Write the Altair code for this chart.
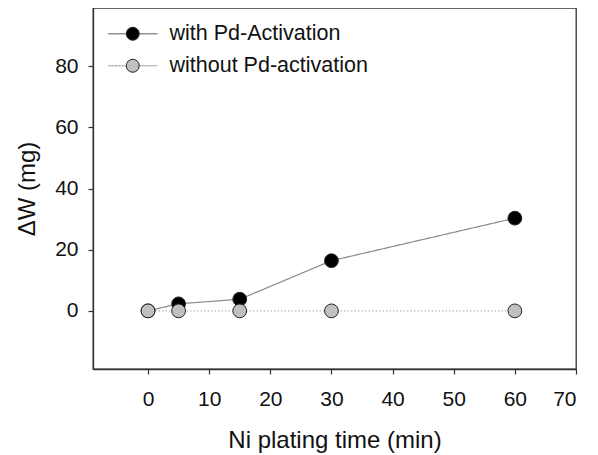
import altair as alt
import pandas as pd

# ---- data ----
time_min = [0, 5, 15, 30, 60]
with_pd = [0.0, 2.3, 3.8, 16.4, 30.3]
without_pd = [0.0, 0.0, 0.0, 0.0, 0.0]
series_names = ["with Pd-Activation", "without Pd-activation"]
x_ticks = [0, 10, 20, 30, 40, 50, 60, 70]
y_ticks = [0, 20, 40, 60, 80]

rows = []
for t, v in zip(time_min, with_pd):
    rows.append({"time": t, "dw": v, "series": series_names[0]})
for t, v in zip(time_min, without_pd):
    rows.append({"time": t, "dw": v, "series": series_names[1]})
df = pd.DataFrame(rows)
df["line_series"] = df["series"]

FONT = "Liberation Sans"
LEG_X = 29
LEG_Y = 15
LEG_FS = 21.5

x_enc = alt.X(
    "time:Q",
    scale=alt.Scale(domain=[-9, 70], nice=False, zero=False),
    axis=alt.Axis(
        values=x_ticks, title="Ni plating time (min)", grid=False,
        tickSize=5, labelPadding=31, labelBaseline="alphabetic",
        titleBaseline="alphabetic", titleY=78,
    ),
)
y_enc = alt.Y(
    "dw:Q",
    scale=alt.Scale(domain=[-19, 99], nice=False, zero=False),
    axis=alt.Axis(
        values=y_ticks, title="ΔW (mg)", grid=False,
        tickSize=5, labelPadding=10,
        titleX=-66, titleAlign="center", titleBaseline="middle",
        titleAngle=270,
    ),
)

line_legend = alt.Legend(
    orient="none", legendX=LEG_X, legendY=LEG_Y, title=None, padding=0,
    symbolType="M -3.8 0 L -1.05 0 M 1.05 0 L 3.8 0",
    symbolSize=169, symbolStrokeWidth=1.2,
    labelFontSize=LEG_FS, labelOpacity=0, labelOffset=26, rowPadding=9,
    labelFont=FONT, labelLimit=500,
)

lines = alt.Chart(df).mark_line(strokeWidth=1.2).encode(
    x=x_enc,
    y=y_enc,
    color=alt.Color(
        "line_series:N",
        scale=alt.Scale(domain=series_names, range=["#8a8a8a", "#b8b8b8"]),
        legend=line_legend,
    ),
    strokeDash=alt.StrokeDash(
        "line_series:N",
        scale=alt.Scale(domain=series_names, range=[[1, 0], [1.5, 2]]),
        legend=line_legend,
    ),
)

points = alt.Chart(df).mark_circle(
    size=190, opacity=1, stroke="#222222", strokeWidth=1
).encode(
    x=x_enc,
    y=y_enc,
    fill=alt.Fill(
        "series:N",
        scale=alt.Scale(domain=series_names, range=["#000000", "#c0c0c0"]),
        legend=alt.Legend(
            orient="none", legendX=LEG_X, legendY=LEG_Y, title=None, padding=0,
            symbolType="circle", symbolSize=169,
            symbolStrokeColor="#222222", symbolStrokeWidth=1,
            symbolOpacity=1,
            labelFontSize=LEG_FS, labelOffset=26, rowPadding=9,
            labelFont=FONT, labelColor="#111111", labelLimit=500,
        ),
    ),
)

chart = (
    alt.layer(lines, points)
    .resolve_scale(color="independent", fill="independent")
    .properties(
        width=483, height=361,
        autosize=alt.AutoSizeParams(type="none"),
        padding={"left": 85, "top": 0, "right": 5, "bottom": 88},
    )
    .configure_view(stroke="#333333", strokeWidth=1.3)
    .configure_axis(
        domainColor="#333333", domainWidth=1.3,
        tickColor="#333333", tickWidth=1.2,
        labelFont=FONT, labelFontSize=21, labelColor="#111111",
        titleFont=FONT, titleFontSize=24, titleColor="#111111",
        titleFontWeight="normal",
    )
)

chart.save("out.html", embed_options={"renderer": "svg", "actions": False})
